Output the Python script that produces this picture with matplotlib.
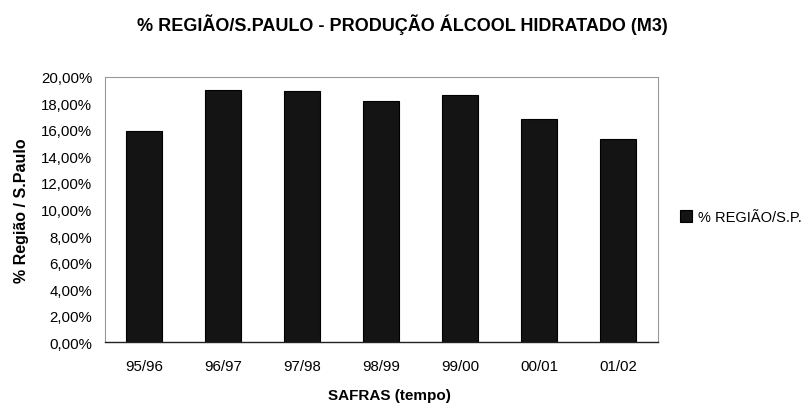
import matplotlib
matplotlib.use('Agg')
import matplotlib.pyplot as plt
from matplotlib.ticker import FuncFormatter

plt.rcParams['font.family'] = ['Liberation Sans', 'DejaVu Sans']

# safras and share of Sao Paulo production (%)
safras = ['95/96', '96/97', '97/98', '98/99', '99/00', '00/01', '01/02']
percentuais = [15.95, 19.05, 18.92, 18.2, 18.65, 16.83, 15.32]
serie_nome = '% REGIÃO/S.P.'

fig = plt.figure(figsize=(8.12, 4.06), dpi=100)
ax = fig.add_axes([0.129, 0.155, 0.681, 0.653])

ax.bar(range(len(safras)), percentuais, width=0.45, color='#141414',
       edgecolor='#000000', linewidth=0.8, label=serie_nome)

ax.set_xlim(-0.5, len(safras) - 0.5)
ax.set_ylim(0, 20)
ax.set_yticks(range(0, 21, 2))
ax.yaxis.set_major_formatter(FuncFormatter(lambda v, p: ('%.2f%%' % v).replace('.', ',')))
ax.set_xticks(range(len(safras)))
ax.set_xticklabels(safras)
ax.tick_params(axis='both', length=0, labelsize=10.8)
ax.tick_params(axis='y', pad=9)
ax.tick_params(axis='x', pad=12)

for s in ['top', 'right', 'left']:
    ax.spines[s].set_color('#999999')
    ax.spines[s].set_linewidth(0.8)
ax.spines['bottom'].set_color('#222222')
ax.spines['bottom'].set_linewidth(1.0)

ax.set_ylabel('% Região / S.Paulo', fontsize=11.5, fontweight='bold')
ax.yaxis.set_label_coords(-0.137, 0.5)
ax.set_xlabel('SAFRAS (tempo)', fontsize=11, fontweight='bold')
ax.xaxis.set_label_coords(0.515, -0.175)
fig.suptitle('% REGIÃO/S.PAULO - PRODUÇÃO ÁLCOOL HIDRATADO (M3)', x=0.495, y=0.965,
             fontsize=13, fontweight='bold')

ax.legend(loc='center left', bbox_to_anchor=(0.838, 0.463), bbox_transform=fig.transFigure,
          frameon=False, fontsize=10.5, handlelength=0.8, handleheight=0.8,
          handletextpad=0.4, borderpad=0, borderaxespad=0)

fig.savefig('out.png', dpi=100)
